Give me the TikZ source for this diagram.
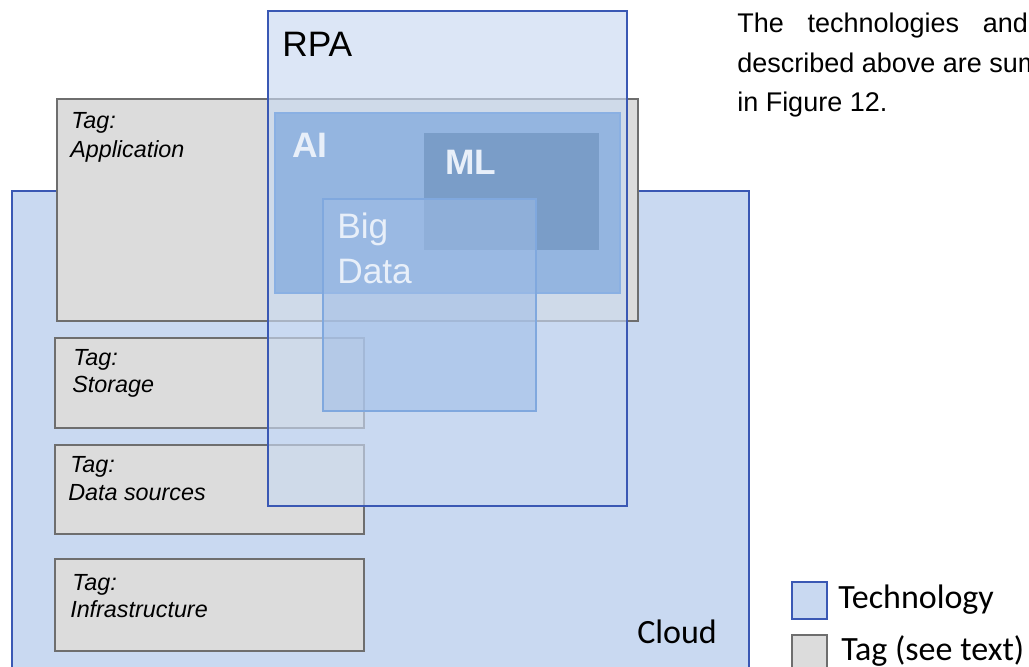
\documentclass[tikz,border=0pt]{standalone}
\usepackage{fontspec}
\setmainfont{Liberation Sans}
\newfontfamily\legendfont{Carlito}
\usetikzlibrary{positioning}

\definecolor{cloudblue}{RGB}{201,217,241}
\definecolor{techedge}{RGB}{58,88,180}
\definecolor{tagfill}{RGB}{220,220,220}
\definecolor{tagedge}{RGB}{110,110,110}
\definecolor{aiblue}{RGB}{148,181,224}
\definecolor{aiedge}{RGB}{138,176,227}
\definecolor{mlblue}{RGB}{122,157,200}
\definecolor{bigblue}{RGB}{160,189,231}
\definecolor{bigedge}{RGB}{128,168,222}
\definecolor{labelwhite}{RGB}{232,239,249}

\begin{document}
\begin{tikzpicture}[x=0.75pt,y=0.75pt,yscale=-1,xscale=1,
  tagbox/.style={fill=tagfill,draw=tagedge,line width=1.5pt},
  techbox/.style={fill=cloudblue,draw=techedge,line width=1.3pt},
  tagtext/.style={anchor=base west,inner sep=0pt,font=\fontsize{17.5}{21}\selectfont\itshape},
  techtext/.style={anchor=base west,inner sep=0pt,font=\fontsize{26.5}{32}\selectfont},
  legendtext/.style={anchor=base west,inner sep=0pt,font=\legendfont\fontsize{25.5}{30}\selectfont}]

\clip (0,0) rectangle (1029,667);

%Cloud
\draw [techbox] (12,191) rectangle (749,690) ;

%Tags
\draw [tagbox] (57,99) rectangle (638,321) ;
\draw [tagbox] (55,338) rectangle (364,428) ;
\draw [tagbox] (55,445) rectangle (364,534) ;
\draw [tagbox] (55,559) rectangle (364,651) ;

%RPA
\draw [fill=cloudblue,fill opacity=0.65,draw=techedge,line width=1.3pt] (268,11) rectangle (627,506) ;

%AI
\draw [fill=aiblue,draw=aiedge,line width=1.2pt] (275,113) rectangle (620,293) ;
%ML
\fill [mlblue] (424,133) rectangle (599,250) ;
%Big Data
\draw [fill=bigblue,fill opacity=0.57,draw=bigedge,line width=1.2pt] (323,199) rectangle (536,411) ;

% Text Node
\node [techtext] (rpa) at (282,57) {RPA};
\node [techtext,text=labelwhite,font=\fontsize{26.5}{32}\selectfont\bfseries] (ai) at (292,157) {AI};
\node [techtext,text=labelwhite,font=\fontsize{26.5}{32}\selectfont\bfseries] (ml) at (445,175) {ML};
\node [techtext,text=labelwhite] (big) at (337,238) {Big};
\node [techtext,text=labelwhite] (data) at (337,283) {Data};

% Text Node
\node [tagtext] (apptag) at (71,128) {Tag:};
\node [tagtext] (app) at (70,157) {Application};
\node [tagtext] (storetag) at (73,365) {Tag:};
\node [tagtext] (store) at (72,392) {Storage};
\node [tagtext] (srctag) at (70,472) {Tag:};
\node [tagtext] (src) at (68,500) {Data sources};
\node [tagtext] (infratag) at (72,590) {Tag:};
\node [tagtext] (infra) at (70,617) {Infrastructure};

\node [legendtext] (cloud) at (637,643) {Cloud};

% Legend
\draw [techbox] (792,582) rectangle (827,619) ;
\draw [tagbox] (792,635) rectangle (827,675) ;
\node [legendtext] (techlab) at (838,608) {Technology};
\node [legendtext] (taglab) at (841,660) {Tag (see text)};

% Text Node
\node [anchor=base west,inner sep=0pt,font=\fontsize{20.25}{29}\selectfont] (line1) at (737,33) {\makebox[218pt][s]{The technologies and}};
\node [anchor=base west,inner sep=0pt,font=\fontsize{20.25}{29}\selectfont] (line2) at (737,73) {described above are summarised};
\node [anchor=base west,inner sep=0pt,font=\fontsize{20.25}{29}\selectfont] (line3) at (737,112) {in Figure 12.};

\end{tikzpicture}
\end{document}
